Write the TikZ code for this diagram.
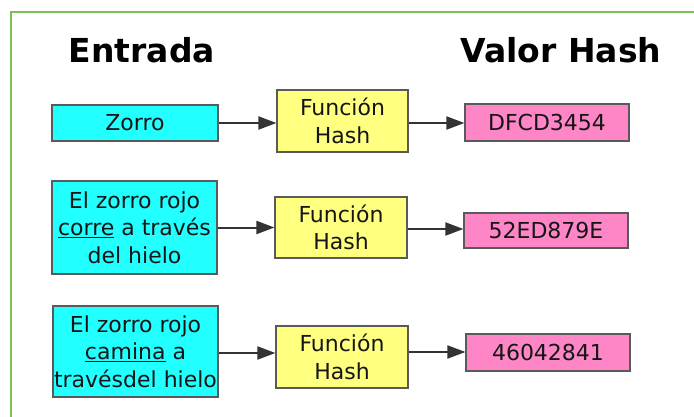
\documentclass[tikz,border=0pt]{standalone}
\usepackage{fontspec}
\setmainfont{DejaVu Sans}
\usetikzlibrary{arrows.meta}
\definecolor{incol}{HTML}{22FFFF}
\definecolor{fncol}{HTML}{FFFF80}
\definecolor{hvcol}{HTML}{FF86C6}
\definecolor{edgecol}{HTML}{5A5A5A}
\definecolor{framecol}{HTML}{7CC05A}
\definecolor{txtcol}{HTML}{151515}
\begin{document}
\begin{tikzpicture}[x=1pt,y=-1pt,
  basebox/.style={draw=edgecol,line width=1.2pt,inner sep=0pt,align=center,
    text=txtcol,font=\fontsize{22}{27.5}\selectfont},
  inbox/.style={basebox,fill=incol},
  fnbox/.style={basebox,fill=fncol,minimum width=131pt,minimum height=62pt},
  hvbox/.style={basebox,fill=hvcol,minimum width=164pt},
  title/.style={font=\fontsize{33}{38}\selectfont\bfseries,text=black},
  conn/.style={draw=black!80,line width=2pt,-{Triangle[length=18pt,width=13pt]}}]
\useasboundingbox (0,0) rectangle (694,417);
\fill[white] (0,0) rectangle (694,417);
\draw[framecol,line width=1.5pt] (11,417) -- (11,12) -- (694,12);
\node[title] (t1) at (142,50) {Entrada};
\node[title] (t2) at (561,50) {Valor Hash};
% row 1
\node[inbox,minimum width=166pt,minimum height=36pt] (c1) at (135,123) {Zorro};
\node[fnbox] (f1) at (342.5,121) {Función\\Hash};
\node[hvbox,minimum height=37pt] (h1) at (547,122.5) {DFCD3454};
% row 2
\node[inbox,minimum width=165pt,minimum height=93pt] (c2) at (134.5,227.5) {El zorro rojo\\\underline{corre} a través\\del hielo};
\node[fnbox,minimum width=132pt,minimum height=61pt] (f2) at (341,227.5) {Función\\Hash};
\node[hvbox,minimum height=35pt] (h2) at (546,230.5) {52ED879E};
% row 3
\node[inbox,minimum width=165pt,minimum height=91pt] (c3) at (135.5,351.5) {El zorro rojo\\\underline{camina} a\\travésdel hielo};
\node[fnbox,minimum width=132pt] (f3) at (342,357) {Función\\Hash};
\node[hvbox,minimum height=37pt] (h3) at (548,352.5) {46042841};
% connectors
\draw[conn] (c1.east) -- (c1.east -| f1.west);
\draw[conn] (f1.east |- 0,123) coordinate (a1) -- (a1 -| h1.west);
\draw[conn] (c2.east) -- (c2.east -| f2.west);
\draw[conn] (f2.east |- 0,229) coordinate (a2) -- (a2 -| h2.west);
\draw[conn] (c3.east |- 0,353) coordinate (a3) -- (a3 -| f3.west);
\draw[conn] (f3.east |- 0,352) coordinate (a4) -- (a4 -| h3.west);
\end{tikzpicture}
\end{document}
